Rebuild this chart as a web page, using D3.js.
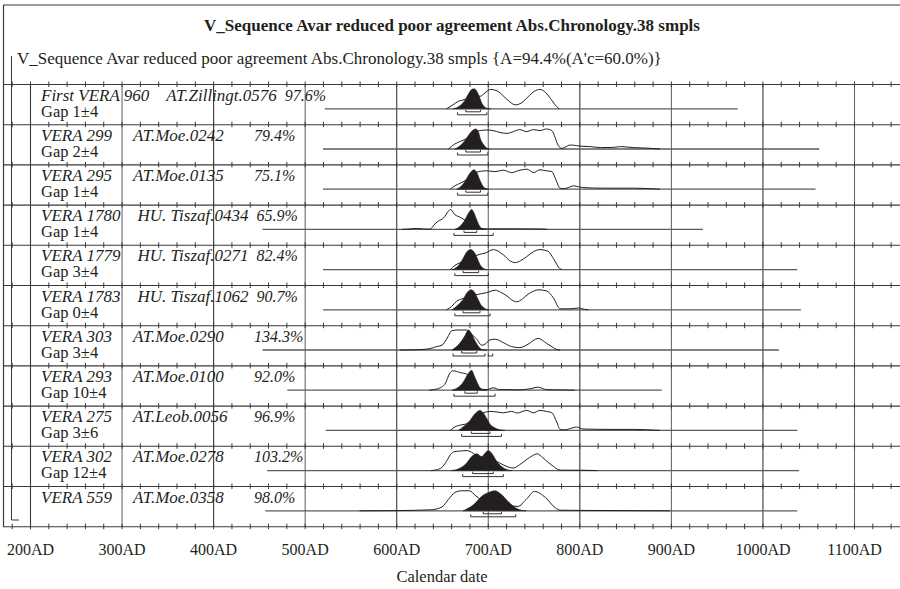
<!DOCTYPE html>
<html>
<head>
<meta charset="utf-8">
<script src="https://cdn.jsdelivr.net/npm/d3@7"></script>
<style>
body { margin: 0; background: #fff; }
svg text { font-family: "Liberation Serif", "Times New Roman", serif; fill: #231f20; }
</style>
</head>
<body>
<div id="vis-container"></div>
<script>

const width = 900,
    height = 589;

// rows, top to bottom
const names = ["First VERA 960", "VERA 299", "VERA 295", "VERA 1780", "VERA 1779", "VERA 1783",
    "VERA 303", "VERA 293", "VERA 275", "VERA 302", "VERA 559"];
const gaps = ["Gap 1±4", "Gap 2±4", "Gap 1±4", "Gap 1±4", "Gap 3±4", "Gap 0±4",
    "Gap 3±4", "Gap 10±4", "Gap 3±6", "Gap 12±4", ""];
const samples = ["AT.Zillingt.0576", "AT.Moe.0242", "AT.Moe.0135", "HU. Tiszaf.0434", "HU. Tiszaf.0271",
    "HU. Tiszaf.1062", "AT.Moe.0290", "AT.Moe.0100", "AT.Leob.0056", "AT.Moe.0278", "AT.Moe.0358"];
const agreements = ["97.6%", "79.4%", "75.1%", "65.9%", "82.4%", "90.7%", "134.3%", "92.0%", "96.9%", "103.2%", "98.0%"];

// span of each row's base line (years AD)
const spanStart = [522, 520, 520, 454, 520, 520, 454, 481, 523, 459, 457];
const spanEnd = [973, 1062, 1058, 935, 1038, 1042, 1018, 890, 1038, 1040, 1038];

// unmodelled (outline) distributions, [year, relative density]
const likelihoods = [
  [[655,0],[662,0.2],[668,0.38],[674,0.45],[680,0.55],[686,0.62],[692,0.63],[697,0.8],[703,0.97],[710,0.9],[718,0.6],[724,0.35],[730,0.2],[737,0.3],[744,0.6],[751,0.88],[757,0.97],[763,0.82],[770,0.42],[775,0.12],[778,0]],
  [[657,0],[664,0.25],[670,0.38],[676,0.5],[682,0.7],[688,0.88],[693,0.93],[699,0.95],[706,0.92],[713,0.83],[721,0.78],[728,0.87],[735,0.97],[742,0.87],[750,0.97],[757,0.92],[764,1.0],[770,0.92],[773.5,0.58],[777,0.17],[781,0.03],[784,0.08],[790,0.2],[797,0.17],[804,0.13],[812,0.12],[823,0.07],[837,0.08],[845,0.12],[859,0.07],[875,0.04],[888,0]],
  [[659,0],[664,0.17],[670,0.3],[676,0.45],[682,0.65],[688,0.85],[693,0.9],[699,0.92],[708,0.88],[717,0.95],[726,0.83],[735,0.95],[743,1.0],[750,0.83],[757,0.97],[764,0.92],[770,0.88],[773.5,0.58],[779,0.05],[783,0.02],[788,0.08],[794,0.17],[799,0.12],[808,0.07],[830,0.05],[860,0.05],[888,0]],
  [[606,0],[614,0.02],[622,0.05],[630,0.02],[637,0.01],[641,0.21],[646,0.42],[651.5,0.56],[657,0.91],[659,1.0],[664,0.74],[670,0.6],[675,0.47],[681,0.35],[686,0.2],[691,0.05],[700,0.03],[730,0.03],[760,0.02],[765,0]],
  [[659,0],[664,0.21],[670,0.35],[676,0.45],[682,0.6],[687,0.7],[691.5,0.77],[697,0.82],[706,1.0],[717,0.74],[724,0.45],[730,0.35],[736,0.45],[742.5,0.65],[750,0.9],[757,1.0],[766,0.91],[771.6,0.56],[779,0.04],[781,0]],
  [[655,0],[660.6,0.17],[666,0.43],[672,0.55],[680,0.65],[687,0.75],[693.4,0.81],[699,0.86],[708,0.98],[714,0.88],[721,0.69],[726,0.5],[731.6,0.4],[738,0.55],[744,0.78],[750,0.93],[755,1.0],[764,0.95],[771.6,0.6],[779,0.05],[790,0.05],[799,0.09],[806,0.02],[810,0]],
  [[604,0],[626,0.02],[637,0.07],[644,0.17],[650,0.24],[655,0.54],[661,0.97],[668,1.0],[677,1.0],[682,0.8],[688,0.54],[693.4,0.24],[697,0.29],[702.5,0.51],[708,0.54],[717,0.37],[726,0.17],[735,0.12],[744,0.29],[755,0.58],[764,0.34],[771.6,0.12],[775,0.03],[779,0]],
  [[636,0],[641,0.03],[648,0.12],[653,0.29],[659,0.88],[662,0.97],[670,0.88],[677,0.8],[682,0.6],[686,0.35],[690,0.1],[695,0.04],[699,0.03],[706,0.12],[713,0.03],[735,0.02],[746,0.07],[755,0.15],[764,0.03],[772,0.02],[795,0]],
  [[659,0],[664,0.17],[671.5,0.28],[677,0.33],[683,0.5],[689,0.7],[695,0.88],[702.5,0.95],[710,0.92],[717,0.88],[726,0.95],[732,0.87],[742.5,1.0],[750,0.88],[757,1.0],[764,0.95],[770,0.88],[775.3,0.42],[779,0.05],[784,0.03],[792,0.12],[797,0.17],[804,0.07],[837,0.05],[859,0.05],[888,0]],
  [[638,0],[645,0.05],[651,0.21],[656,0.55],[659,0.79],[664,0.95],[670,0.98],[677,1.0],[684,0.87],[690,0.65],[697,0.55],[703,0.55],[708,0.5],[713,0.38],[720,0.22],[728,0.13],[735,0.3],[742,0.54],[749,0.75],[754,0.84],[760,0.65],[766,0.41],[772,0.2],[777,0.05],[782,0.02],[800,0.02],[819,0]],
  [[560,0],[600,0.01],[638,0.05],[650,0.19],[657,0.57],[664,0.91],[671,1.0],[680,1.0],[687,0.74],[693,0.55],[700,0.45],[710,0.35],[720,0.28],[733,0.22],[742,0.57],[751,0.97],[763,0.66],[774,0.14],[779,0.03],[800,0.02],[850,0.01],[899,0]]
];

// modelled (filled) distributions
const posteriors = [
  [[662,0],[670,0.17],[675,0.42],[679,0.75],[682,0.95],[685,1],[688,0.88],[691,0.58],[693.5,0.28],[696,0.12],[699,0.03],[703,0]],
  [[664,0],[670,0.17],[675,0.42],[680,0.75],[684,0.95],[687,1],[690,0.83],[692,0.5],[695,0.25],[698,0.08],[702,0]],
  [[666,0],[672,0.2],[676.5,0.5],[681,0.83],[685,0.97],[688,0.83],[691,0.5],[693.5,0.25],[696,0.08],[701,0]],
  [[664,0],[670,0.17],[675,0.47],[679,0.82],[682.4,1],[685,0.82],[688,0.47],[691,0.17],[693.5,0.04],[697,0]],
  [[661,0],[668,0.21],[673,0.56],[677.5,0.91],[681.3,1],[685,0.88],[688.6,0.56],[691.5,0.25],[695,0.07],[699,0]],
  [[661,0],[668,0.26],[673,0.52],[677.5,0.86],[681.3,1],[685,0.91],[688.6,0.6],[692.3,0.26],[696,0.09],[701,0]],
  [[661,0],[666,0.17],[671.5,0.46],[675,0.71],[678.8,1],[682.4,0.8],[686,0.46],[690,0.17],[693.4,0.03],[699,0]],
  [[661,0],[668.5,0.17],[673.3,0.41],[677.5,0.75],[682.4,1],[685.3,0.71],[688.6,0.37],[691.5,0.12],[695,0.03],[699,0]],
  [[668,0],[675,0.25],[680.6,0.5],[686,0.83],[691.5,1],[695,0.88],[699,0.58],[703,0.28],[708,0.12],[713,0.03],[719,0]],
  [[660,0],[670,0.13],[677,0.38],[682.4,0.7],[688,0.84],[693.4,0.7],[697,0.87],[700.6,1],[705.4,0.79],[709.7,0.46],[715,0.21],[720.7,0.05],[726,0]],
  [[673,0],[684.6,0.31],[693.8,0.74],[703,0.95],[707.6,1],[714.5,0.83],[723.7,0.4],[730.6,0.14],[737.5,0.02],[742,0]]
];

// 68.2% and 95.4% ranges
const range68 = [[676,692],[676,692],[676,692],[674,688],[673,690],[673,691.5],[671.5,688],[675,688.6],[682,702.5],[683.5,706],[695,715]];
const range95 = [[[667,699]],[[667,700]],[[667,700]],[[663,706]],[[664,700.6]],[[664,702.5]],[[662,697],[700.6,705.4]],[[663,708]],[[671.5,715]],[[672.6,717]],[[681.4,730.6]]];

const labelYears = d3.range(200, 1101, 100);
const tickYears = d3.range(180, 1141, 20);

const title = "V_Sequence Avar reduced poor agreement Abs.Chronology.38 smpls";
const subtitle = "V_Sequence Avar reduced poor agreement Abs.Chronology.38 smpls {A=94.4%(A'c=60.0%)}";

var x = d3.scaleLinear().domain([200, 1100]).range([30, 854]);
var rowY = d3.scaleLinear().domain([0, names.length]).range([84.5, 526.7]);
var h = d3.scaleLinear().domain([0, 1]).range([0, 20]);

var svg = d3.select("#vis-container").append("svg")
    .attr("width", width)
    .attr("height", height);

var lineCol = "#3a3a3a";

// frame
svg.append("line").attr("x1", 3).attr("x2", 900).attr("y1", 5).attr("y2", 5)
    .attr("stroke", lineCol).attr("stroke-width", 1.2);
svg.append("line").attr("x1", 3.5).attr("x2", 3.5).attr("y1", 5).attr("y2", rowY(names.length))
    .attr("stroke", lineCol).attr("stroke-width", 1.2);

svg.append("text").attr("x", 452).attr("y", 31).attr("text-anchor", "middle")
    .attr("font-size", 17).attr("font-weight", "bold").text(title);
svg.append("text").attr("x", 17).attr("y", 64)
    .attr("font-size", 17).text(subtitle);

// sequence bracket
svg.append("path")
    .attr("d", "M11.5,56V520H19")
    .attr("fill", "none").attr("stroke", lineCol).attr("stroke-width", 1);

// vertical grid
svg.append("g").selectAll("line")
   .data(labelYears)
   .enter().append("line")
   .attr("x1", d => x(d) + 0.5).attr("x2", d => x(d) + 0.5)
   .attr("y1", rowY(0)).attr("y2", rowY(names.length))
   .attr("stroke", (d, i) => i % 2 ? "#6a6a6a" : lineCol).attr("stroke-width", 1.1);

// row separators with ticks
var rowLines = d3.range(names.length + 1);
var sep = svg.append("g");
sep.selectAll("line.row")
   .data(rowLines)
   .enter().append("line")
   .attr("class", "row")
   .attr("x1", 3).attr("x2", 900)
   .attr("y1", d => rowY(d)).attr("y2", d => rowY(d))
   .attr("stroke", lineCol).attr("stroke-width", 1.1);

rowLines.forEach(function(r) {
    sep.append("g").selectAll("line")
       .data(tickYears)
       .enter().append("line")
       .attr("x1", d => x(d) + 0.5).attr("x2", d => x(d) + 0.5)
       .attr("y1", rowY(r) - 3).attr("y2", rowY(r) + 2.5)
       .attr("stroke", lineCol).attr("stroke-width", 1);
});

// labels
var labels = svg.append("g").style("font-style", "italic");
names.forEach(function(n, i) {
    var top = rowY(i);
    var t1 = labels.append("text").attr("x", 41).attr("y", top + 16).attr("font-size", 17).text(n);
    svg.append("text").attr("x", 41).attr("y", top + 32).attr("font-size", 16.5).text(gaps[i]);
    var nameEnd = 41 + t1.node().getComputedTextLength();
    var sx = Math.max(133, nameEnd + 17);
    var t2 = labels.append("text").attr("x", sx).attr("y", top + 16).attr("font-size", 17).text(samples[i]);
    var sampleEnd = sx + t2.node().getComputedTextLength();
    var px = Math.max(254, sampleEnd + 8);
    labels.append("text").attr("x", px).attr("y", top + 16).attr("font-size", 16).text(agreements[i]);
});

// distributions
var outline = d3.line()
    .x(d => x(d[0]))
    .y(d => -h(d[1]))
    .curve(d3.curveMonotoneX);

var filled = d3.area()
    .x(d => x(d[0]))
    .y0(0)
    .y1(d => -h(d[1]))
    .curve(d3.curveMonotoneX);

var dist = svg.append("g");
names.forEach(function(n, i) {
    var g = dist.append("g").attr("transform", "translate(0," + (rowY(i) + 24.3) + ")");
    g.append("line")
     .attr("x1", x(spanStart[i])).attr("x2", x(spanEnd[i]))
     .attr("y1", 0).attr("y2", 0)
     .attr("stroke", "#5a5a5a").attr("stroke-width", 1.3);
    g.append("path")
     .attr("d", outline(likelihoods[i]))
     .attr("fill", "none").attr("stroke", "#231f20").attr("stroke-width", 1);
    g.append("path")
     .attr("d", filled(posteriors[i]))
     .attr("fill", "#231f20").attr("stroke", "#231f20").attr("stroke-width", 0.6);

    var r = range68[i];
    g.append("path")
     .attr("d", "M" + x(r[0]) + ",1V3H" + x(r[1]) + "V1")
     .attr("fill", "none").attr("stroke", "#333").attr("stroke-width", 1);
    range95[i].forEach(function(r) {
        g.append("path")
         .attr("d", "M" + x(r[0]) + ",3.5V6H" + x(r[1]) + "V3.5")
         .attr("fill", "none").attr("stroke", "#333").attr("stroke-width", 1);
    });
});

// axis labels
var axis = d3.axisBottom(x)
    .tickValues(labelYears)
    .tickFormat(d => d + "AD")
    .tickSize(0)
    .tickPadding(17);

var ax = svg.append("g")
    .attr("transform", "translate(0," + rowY(names.length) + ")")
    .call(axis);
ax.select(".domain").remove();
ax.selectAll("text")
  .attr("font-family", "Liberation Serif")
  .attr("font-size", 16)
  .attr("fill", "#231f20");

svg.append("text").attr("x", 442).attr("y", 582).attr("text-anchor", "middle")
    .attr("font-size", 16.5).text("Calendar date");

</script>
</body>
</html>
